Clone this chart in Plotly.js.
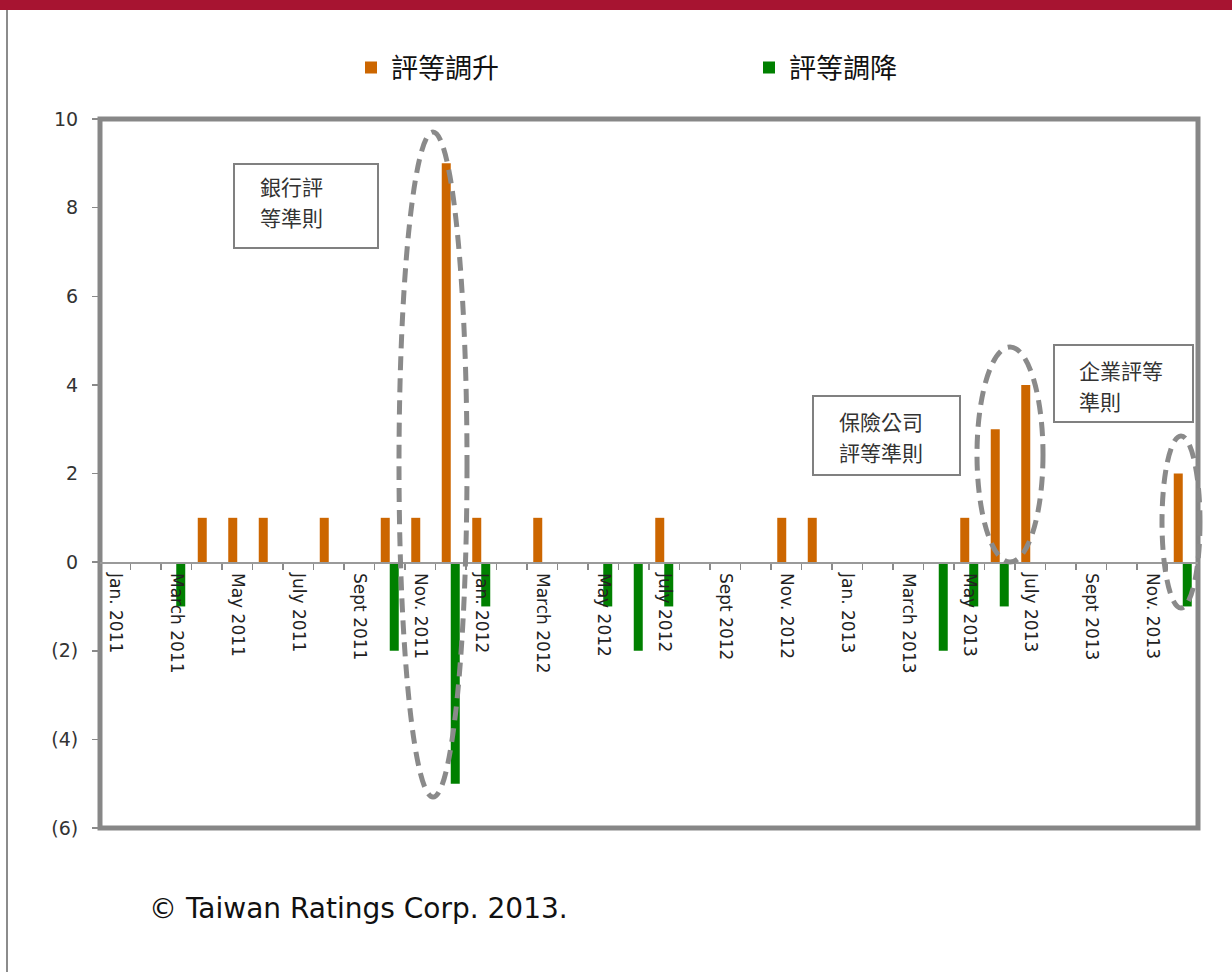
<!DOCTYPE html>
<html>
<head>
<meta charset="utf-8">
<script src="https://cdn.plot.ly/plotly-3.0.1.min.js"></script>
<style>html,body{margin:0;padding:0;background:#fff;overflow:hidden;}#chart{width:1232px;height:972px;}</style>
</head>
<body>
<div id="chart"></div>
<script>
// Months Jan 2011 .. Dec 2013
var months = [
  "2011-01","2011-02","2011-03","2011-04","2011-05","2011-06","2011-07","2011-08","2011-09","2011-10","2011-11","2011-12",
  "2012-01","2012-02","2012-03","2012-04","2012-05","2012-06","2012-07","2012-08","2012-09","2012-10","2012-11","2012-12",
  "2013-01","2013-02","2013-03","2013-04","2013-05","2013-06","2013-07","2013-08","2013-09","2013-10","2013-11","2013-12"
];
// 評等調升 (upgrades)
var upgrades = [
  0,0,0,1,1,1,0,1,0,1,1,9,
  1,0,1,0,0,0,1,0,0,0,1,1,
  0,0,0,0,1,3,4,0,0,0,0,2
];
// 評等調降 (downgrades)
var downgrades = [
  0,0,-1,0,0,0,0,0,0,-2,0,-5,
  -1,0,0,0,-1,-2,-1,0,0,0,0,0,
  0,0,0,-2,-1,-1,0,0,0,0,0,-1
];
var tickLabels = ["Jan. 2011","March 2011","May 2011","July 2011","Sept 2011","Nov. 2011",
  "Jan. 2012","March 2012","May 2012","July 2012","Sept 2012","Nov. 2012",
  "Jan. 2013","March 2013","May 2013","July 2013","Sept 2013","Nov. 2013"];
var yTickVals = [-6,-4,-2,0,2,4,6,8,10];
var yTickText = ["(6)","(4)","(2)","0","2","4","6","8","10"];
var seriesNames = ["評等調升","評等調降"];
var noteLines = [["銀行評","等準則"],["保險公司","評等準則"],["企業評等","準則"]];
var copyright = "© Taiwan Ratings Corp. 2013.";

// ticks: every month boundary, label every second month
var monthTickText = months.map(function(m,i){ return (i%2===0) ? tickLabels[i/2] : ""; });

// layout geometry helpers (pixel -> paper)
var L=100, R=1198, T=119, B=828;
function px(x){ return (x-L)/(R-L); }
function py(y){ return (B-y)/(B-T); }

var traces = [
  {type:"bar", name:seriesNames[0], x:months, y:upgrades, marker:{color:"#CC6600"}},
  {type:"bar", name:seriesNames[1], x:months, y:downgrades, marker:{color:"#008000"}}
];

var grayDash = {color:"#8a8a8a", width:5, dash:"14px,8px"};
var shapes = [
  {type:"rect", xref:"paper", yref:"paper", x0:px(-5), x1:px(1240), y0:py(10), y1:py(-5), fillcolor:"#A71431", line:{width:0}},
  {type:"line", xref:"paper", yref:"paper", x0:px(7), x1:px(7), y0:py(10), y1:py(975), line:{color:"#8c8c8c", width:2}},
  {type:"rect", xref:"paper", yref:"paper", x0:0, x1:1, y0:0, y1:1, line:{color:"#878787", width:5}, layer:"below"},
  {type:"rect", xref:"paper", yref:"paper", x0:px(234), x1:px(378), y0:py(248), y1:py(164), line:{color:"#808080", width:2}},
  {type:"rect", xref:"paper", yref:"paper", x0:px(813), x1:px(960), y0:py(475), y1:py(396), line:{color:"#808080", width:2}},
  {type:"rect", xref:"paper", yref:"paper", x0:px(1054), x1:px(1193), y0:py(422), y1:py(345), line:{color:"#808080", width:2}},
  {type:"circle", xref:"paper", yref:"paper", x0:px(399), x1:px(467), y0:py(797), y1:py(132), line:grayDash},
  {type:"circle", xref:"paper", yref:"paper", x0:px(977), x1:px(1043), y0:py(562), y1:py(347), line:grayDash},
  {type:"circle", xref:"paper", yref:"paper", x0:px(1162), x1:px(1200), y0:py(608), y1:py(436), line:grayDash}
];

var cjk = "Noto Sans CJK TC";
var noteFont = {family:cjk, size:21, color:"#333"};
// note positions: left x, first-line center y, second-line center y
var notePos = [[258,186,217],[837,421,452],[1077,370,401]];
var annotations = [];
noteLines.forEach(function(lines, k){
  lines.forEach(function(t, j){
    annotations.push({xref:"paper", yref:"paper", x:px(notePos[k][0]), y:py(notePos[k][1+j]),
      xanchor:"left", yanchor:"middle", align:"left", showarrow:false, text:t, font:noteFont});
  });
});
annotations.push({xref:"paper", yref:"paper", x:px(147), y:py(908), xanchor:"left", yanchor:"middle",
  showarrow:false, text:copyright, font:{family:"DejaVu Sans", size:28, color:"#111"}});

var layout = {
  width:1232, height:972,
  margin:{l:L, r:1232-R, t:T, b:972-B, pad:0, autoexpand:false},
  paper_bgcolor:"#fff", plot_bgcolor:"#fff",
  font:{family:"DejaVu Sans", color:"#333"},
  barmode:"group", bargap:0.41, bargroupgap:0,
  showlegend:true,
  legend:{orientation:"h", x:px(351), xanchor:"left", y:py(68), yanchor:"middle",
    entrywidth:353, entrywidthmode:"pixels", font:{family:cjk, size:27, color:"#111"}, bgcolor:"rgba(0,0,0,0)"},
  xaxis:{type:"category", categoryorder:"array", categoryarray:months,
    anchor:"free", position:(0-(-6))/16, automargin:false,
    tickmode:"array", tickvals:months, ticktext:monthTickText, tickson:"boundaries",
    ticks:"outside", ticklen:6, tickcolor:"#8a8a8a", tickwidth:1.5,
    tickangle:90, tickfont:{family:"DejaVu Sans", size:17, color:"#222"}, ticklabelstandoff:6,
    showline:true, linecolor:"#9a9a9a", linewidth:1.5, showgrid:false, zeroline:false,
    range:[-0.5,35.5], fixedrange:true},
  yaxis:{range:[-6,10], tickmode:"array", tickvals:yTickVals, ticktext:yTickText, automargin:false,
    ticks:"outside", ticklen:7, tickcolor:"#8a8a8a", tickwidth:1.5, ticklabelstandoff:10,
    tickfont:{family:"DejaVu Sans", size:19, color:"#333"},
    showline:false, showgrid:false, zeroline:false, fixedrange:true},
  shapes:shapes, annotations:annotations
};

Plotly.newPlot("chart", traces, layout, {displayModeBar:false, staticPlot:true});
</script>
</body>
</html>
